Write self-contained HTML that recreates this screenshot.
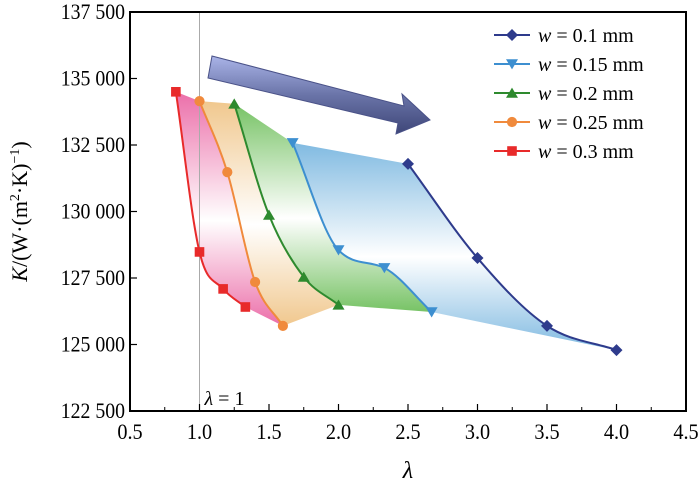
<!DOCTYPE html>
<html><head><meta charset="utf-8"><style>
html,body{margin:0;padding:0;background:#fff;}
svg{display:block;font-family:"Liberation Serif",serif;}
</style></head><body>
<svg id="chart" width="700" height="486" viewBox="0 0 700 486">
<defs>
<linearGradient id="gPink" x1="0" y1="0" x2="0" y2="1"><stop offset="0" stop-color="#e8559a"/><stop offset="0.55" stop-color="#ffffff"/><stop offset="1" stop-color="#e8559a"/></linearGradient>
<linearGradient id="gOrange" x1="0" y1="0" x2="0" y2="1"><stop offset="0" stop-color="#eebe7a"/><stop offset="0.55" stop-color="#ffffff"/><stop offset="1" stop-color="#eebe7a"/></linearGradient>
<linearGradient id="gGreen" x1="0" y1="0" x2="0" y2="1"><stop offset="0" stop-color="#5fb84a"/><stop offset="0.55" stop-color="#ffffff"/><stop offset="1" stop-color="#5fb84a"/></linearGradient>
<linearGradient id="gBlue" x1="0" y1="0" x2="0" y2="1"><stop offset="0" stop-color="#6aaedc"/><stop offset="0.55" stop-color="#ffffff"/><stop offset="1" stop-color="#6aaedc"/></linearGradient>
<linearGradient id="gArrow" x1="0" y1="0" x2="0" y2="1"><stop offset="0" stop-color="#aab4e8"/><stop offset="0.5" stop-color="#6a74a8"/><stop offset="1" stop-color="#3e4678"/></linearGradient>
</defs>
<g id="fills"></g>
<g id="lines"></g>
<g id="marks"></g>
<g id="axes"></g>
</svg>
<script>
const xTicks=[0.5,1.0,1.5,2.0,2.5,3.0,3.5,4.0,4.5];
const yTicks=[122500,125000,127500,130000,132500,135000,137500];
const yTickLabels=["122 500","125 000","127 500","130 000","132 500","135 000","137 500"];
const seriesNames=["w = 0.1 mm","w = 0.15 mm","w = 0.2 mm","w = 0.25 mm","w = 0.3 mm"];
const lam01=[2.5,3.0,3.5,4.0];
const k01=[131790,128250,125700,124790];
const lam015=[1.67,2.0,2.33,2.67];
const k015=[132580,128550,127880,126220];
const lam02=[1.25,1.5,1.75,2.0];
const k02=[134050,129870,127540,126490];
const lam025=[1.0,1.2,1.4,1.6];
const k025=[134150,131480,127350,125700];
const lam03=[0.83,1.0,1.17,1.33];
const k03=[134500,128480,127090,126410];

const NS="http://www.w3.org/2000/svg";
const L=130,R=686,T=12,B=411;
const X=v=>L+(v-0.5)/4*(R-L);
const Y=v=>B-(v-122500)/15000*(B-T);
function mk(tag,attrs,parent){const e=document.createElementNS(NS,tag);for(const k in attrs)e.setAttribute(k,attrs[k]);parent.appendChild(e);return e;}
const fills=document.getElementById('fills'),lines=document.getElementById('lines'),marks=document.getElementById('marks'),axes=document.getElementById('axes');
function pts(xs,ys){return xs.map((x,i)=>[X(x),Y(ys[i])]);}
// monotone cubic (Fritsch-Carlson) in x
function curve(p){const n=p.length,d=[],m=[];
 for(let i=0;i<n-1;i++)d.push((p[i+1][1]-p[i][1])/(p[i+1][0]-p[i][0]));
 m[0]=d[0];m[n-1]=d[n-2];
 for(let i=1;i<n-1;i++)m[i]=(d[i-1]*d[i]<=0)?0:(d[i-1]+d[i])/2;
 for(let i=0;i<n-1;i++){if(d[i]===0){m[i]=m[i+1]=0;continue;}const a=m[i]/d[i],b=m[i+1]/d[i],s=a*a+b*b;if(s>9){const t=3/Math.sqrt(s);m[i]=t*a*d[i];m[i+1]=t*b*d[i];}}
 let s="M"+p[0][0]+","+p[0][1];
 for(let i=0;i<n-1;i++){const h=(p[i+1][0]-p[i][0])/3;
  s+=" C"+(p[i][0]+h)+","+(p[i][1]+m[i]*h)+" "+(p[i+1][0]-h)+","+(p[i+1][1]-m[i+1]*h)+" "+p[i+1][0]+","+p[i+1][1];}
 return {d:s,m:m};}
function curveRev(p){const c=curve(p),m=c.m,n=p.length;let s="";
 for(let i=n-1;i>0;i--){const h=(p[i][0]-p[i-1][0])/3;
  s+=" C"+(p[i][0]-h)+","+(p[i][1]-m[i]*h)+" "+(p[i-1][0]+h)+","+(p[i-1][1]+m[i-1]*h)+" "+p[i-1][0]+","+p[i-1][1];}
 return " L"+p[n-1][0]+","+p[n-1][1]+s;}
const S=[
 {x:lam01,y:k01,c:"#2e3b8c",m:"diamond",fill:null},
 {x:lam015,y:k015,c:"#3d8fd0",m:"tri-down",fill:"url(#gBlue)"},
 {x:lam02,y:k02,c:"#2e8a2e",m:"tri-up",fill:"url(#gGreen)"},
 {x:lam025,y:k025,c:"#f08a3c",m:"circle",fill:"url(#gOrange)"},
 {x:lam03,y:k03,c:"#e82a2a",m:"square",fill:"url(#gPink)"}
];
for(let i=1;i<S.length;i++){
 const a=pts(S[i].x,S[i].y),b=pts(S[i-1].x,S[i-1].y);
 let extra="";
 if(i===4){const o=pts(S[3].x,S[3].y);extra=" L"+o[o.length-1][0]+","+o[o.length-1][1];}
 const d=curve(a).d+extra+curveRev(b)+" Z";
 const f=mk('path',{d:d,fill:S[i].fill,opacity:0.85},fills);
 
 
}
function marker(type,x,y,c,parent,s){s=s||6;let e;
 if(type==="diamond")e=mk('polygon',{points:`${x},${y-s} ${x+s},${y} ${x},${y+s} ${x-s},${y}`,fill:c},parent);
 else if(type==="tri-down")e=mk('polygon',{points:`${x-s},${y-s*0.8} ${x+s},${y-s*0.8} ${x},${y+s*0.9}`,fill:c},parent);
 else if(type==="tri-up")e=mk('polygon',{points:`${x-s},${y+s*0.8} ${x+s},${y+s*0.8} ${x},${y-s*0.9}`,fill:c},parent);
 else if(type==="circle")e=mk('circle',{cx:x,cy:y,r:s*0.85,fill:c},parent);
 else e=mk('rect',{x:x-s*0.8,y:y-s*0.8,width:s*1.6,height:s*1.6,fill:c},parent);
 return e;}
S.forEach((s,i)=>{const p=pts(s.x,s.y);
 const l=mk('path',{d:curve(p).d,fill:"none",stroke:s.c,"stroke-width":2},lines);
 
 
 p.forEach((q,j)=>{const m=marker(s.m,q[0],q[1],s.c,marks);
  
  });
});
const vl=mk('line',{x1:X(1),x2:X(1),y1:T,y2:B,stroke:"#aaa","stroke-width":1},fills);


const vt=mk('text',{x:X(1)+5,y:B-6,"font-size":20,fill:"#000"},axes);vt.innerHTML='<tspan font-style="italic">λ</tspan> = 1';


const ar=mk('polygon',{points:"212,56 404,106 402,94 430,120 396,134 398,123 208,78",fill:"url(#gArrow)",stroke:"#4a5288","stroke-width":1},axes);


const fr=mk('rect',{x:L,y:T,width:R-L,height:B-T,fill:"none",stroke:"#000","stroke-width":2},axes);


xTicks.forEach((v,i)=>{const x=X(v);mk('line',{x1:x,x2:x,y1:B,y2:B-7,stroke:"#000","stroke-width":1.2},axes);
 if(i<xTicks.length-1)mk('line',{x1:X(v+0.25),x2:X(v+0.25),y1:B,y2:B-4,stroke:"#000","stroke-width":1},axes);
 const t=mk('text',{x:x,y:B+28,"text-anchor":"middle","font-size":22,transform:`translate(${x},0) scale(0.92,1) translate(${-x},0)`},axes);t.textContent=v.toFixed(1);
 
 });
yTicks.forEach((v,i)=>{const y=Y(v);mk('line',{x1:L,x2:L+7,y1:y,y2:y,stroke:"#000","stroke-width":1.2},axes);
 const t=mk('text',{x:L-5,y:y+7,"text-anchor":"end","font-size":22,transform:`translate(${L-5},0) scale(0.9,1) translate(${-(L-5)},0)`},axes);t.textContent=yTickLabels[i];
 
 });
const xt=mk('text',{x:(L+R)/2,y:478,"text-anchor":"middle","font-size":24,"font-style":"italic"},axes);xt.textContent="λ";


const yt=mk('text',{x:0,y:0,"text-anchor":"middle","font-size":22,transform:`translate(27,${(T+B)/2}) rotate(-90)`},axes);
yt.innerHTML='<tspan font-style="italic">K</tspan>/(W·(m<tspan dy="-8" font-size="14">2</tspan><tspan dy="8">·K)</tspan><tspan dy="-8" font-size="14">−1</tspan><tspan dy="8">)</tspan>';


seriesNames.forEach((n,i)=>{const y=35+i*29;const g=mk('g',{},axes);
 
 
 mk('line',{x1:494,x2:530,y1:y,y2:y,stroke:S[i].c,"stroke-width":2},g);
 marker(S[i].m,512,y,S[i].c,g);
 const t=mk('text',{x:538,y:y+7,"font-size":20},g);
 t.innerHTML='<tspan font-style="italic">w</tspan>'+n.slice(1);});
</script>
</body></html>
